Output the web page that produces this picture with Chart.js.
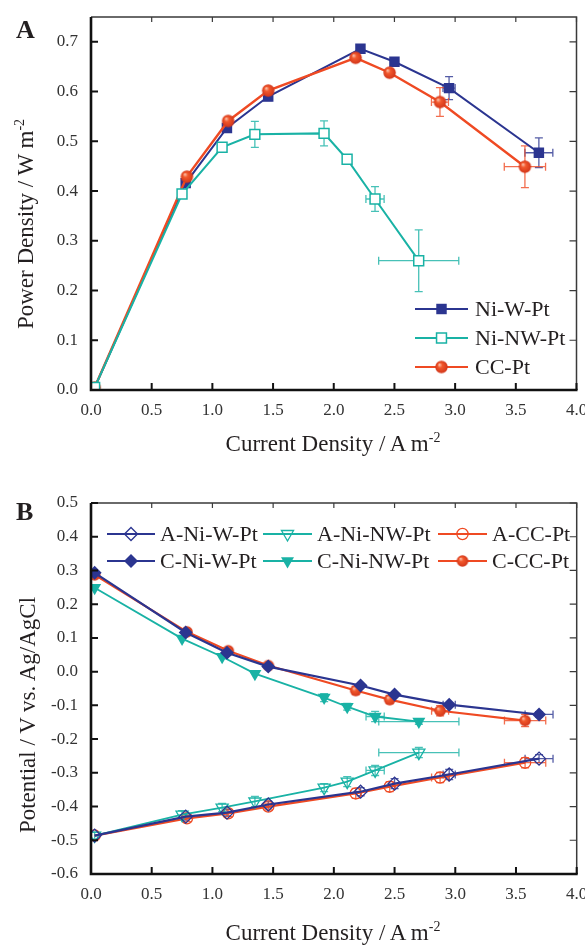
<!DOCTYPE html>
<html>
<head>
<meta charset="utf-8">
<script src="https://cdn.jsdelivr.net/npm/chart.js@4/dist/chart.umd.min.js"></script>
<style>
  html,body{margin:0;padding:0;background:#fff;}
  body{width:585px;height:945px;position:relative;overflow:hidden;font-family:"Liberation Serif","Times New Roman",serif;color:#231f20;}
  canvas{position:absolute;left:0;}
  #ca{top:0;}
  #cb{top:470px;}
  .plab{position:absolute;font-weight:bold;font-size:26px;line-height:26px;}
  .xt{position:absolute;font-size:23px;line-height:23px;white-space:nowrap;transform:translate(-50%,-50%);}
  .yt{position:absolute;font-size:23px;line-height:23px;white-space:nowrap;transform:translate(-50%,-50%) rotate(-90deg);}
  .sp{font-size:14px;position:relative;top:-9px;}
</style>
</head>
<body>
<canvas id="ca" width="585" height="470"></canvas>
<canvas id="cb" width="585" height="475"></canvas>
<div class="plab" style="left:16px;top:17px;">A</div>
<div class="plab" style="left:16px;top:499px;">B</div>
<div class="yt" style="left:27px;top:224px;">Power Density / W m<span class="sp">-2</span></div>
<div class="xt" style="left:333px;top:445px;">Current Density / A m<span class="sp">-2</span></div>
<div class="yt" style="left:27px;top:715px;">Potential / V vs. Ag/AgCl</div>
<div class="xt" style="left:333px;top:934px;">Current Density / A m<span class="sp">-2</span></div>
<script>
// ---------- tick labels ----------
const xTicks  = [0, 0.5, 1.0, 1.5, 2.0, 2.5, 3.0, 3.5, 4.0];
const yTicksA = [0, 0.1, 0.2, 0.3, 0.4, 0.5, 0.6, 0.7];
const yTicksB = [-0.6, -0.5, -0.4, -0.3, -0.2, -0.1, 0, 0.1, 0.2, 0.3, 0.4, 0.5];

// ---------- current densities (A m-2) ----------
const curNiW = [0.03, 0.78, 1.12, 1.46, 2.22, 2.50, 2.95, 3.69];
const curNW  = [0.03, 0.75, 1.08, 1.35, 1.92, 2.11, 2.34, 2.70];
const curCC  = [0.03, 0.79, 1.13, 1.46, 2.18, 2.46, 2.875, 3.575];
const curErrNiW = [0, 0, 0, 0, 0, 0, 0.05, 0.115];
const curErrNW  = [0, 0, 0, 0, 0, 0, 0.075, 0.33];
const curErrCC  = [0, 0, 0, 0, 0, 0, 0.07, 0.17];

// ---------- panel A: power density (W m-2) ----------
const powNiW = [0.005, 0.416, 0.527, 0.590, 0.686, 0.660, 0.607, 0.477];
const powNW  = [0.005, 0.394, 0.488, 0.514, 0.516, 0.464, 0.384, 0.260];
const powCC  = [0.005, 0.429, 0.541, 0.602, 0.668, 0.638, 0.579, 0.449];
const powErrNiW = [0, 0.005, 0.008, 0.008, 0, 0, 0.023, 0.030];
const powErrNW  = [0, 0.006, 0.008, 0.026, 0.025, 0.006, 0.025, 0.062];
const powErrCC  = [0, 0, 0, 0, 0, 0, 0.029, 0.042];

// ---------- panel B: electrode potentials (V vs Ag/AgCl) ----------
const anNiW  = [-0.486, -0.430, -0.418, -0.394, -0.356, -0.332, -0.305, -0.258];
const anNW   = [-0.486, -0.424, -0.403, -0.385, -0.344, -0.326, -0.293, -0.240];
const anCC   = [-0.486, -0.435, -0.420, -0.400, -0.361, -0.341, -0.314, -0.270];
const caNiW  = [0.293, 0.116, 0.056, 0.015, -0.041, -0.068, -0.098, -0.127];
const caNW   = [0.249, 0.098, 0.044, -0.006, -0.077, -0.104, -0.133, -0.148];
const caCC   = [0.287, 0.118, 0.062, 0.018, -0.056, -0.083, -0.116, -0.145];
const anErrNiW = [0, 0.010, 0.010, 0.010, 0.012, 0.015, 0.015, 0.012];
const anErrNW  = [0.010, 0.012, 0.012, 0.015, 0.012, 0.015, 0.015, 0.015];
const anErrCC  = [0, 0.010, 0.010, 0.010, 0.015, 0.015, 0.015, 0.015];
const caErrNiW = [0, 0, 0, 0, 0, 0, 0.005, 0.008];
const caErrNW  = [0, 0, 0, 0, 0.012, 0.010, 0.015, 0.008];
const caErrCC  = [0, 0, 0, 0, 0.012, 0.012, 0.015, 0.018];

const labelsA = ['Ni-W-Pt', 'Ni-NW-Pt', 'CC-Pt'];
const labelsB = ['A-Ni-W-Pt', 'A-Ni-NW-Pt', 'A-CC-Pt', 'C-Ni-W-Pt', 'C-Ni-NW-Pt', 'C-CC-Pt'];

// ---------- styling ----------
const NAVY = '#2b3590', TEAL = '#19b2a5', ORANGE = '#ef4a23';
const FONT = 'Liberation Serif';

function pts(xs, ys){ return xs.map((x, i) => ({x: x, y: ys[i]})); }

function sphere(r){
  const s = Math.ceil(r * 2 + 2);
  const c = document.createElement('canvas');
  c.width = s; c.height = s;
  const g = c.getContext('2d');
  const cx = s / 2;
  const grad = g.createRadialGradient(cx - r * 0.35, cx - r * 0.4, r * 0.05, cx, cx, r);
  grad.addColorStop(0, '#fcc4ae');
  grad.addColorStop(0.35, '#f2582c');
  grad.addColorStop(1, '#d2361a');
  g.fillStyle = grad;
  g.beginPath(); g.arc(cx, cx, r, 0, Math.PI * 2); g.fill();
  return c;
}
const ballA = sphere(6.2);
const ballB = sphere(5.8);

// error bar plugin
const errorBars = {
  id: 'errorBars',
  beforeDatasetsDraw(chart){
    const ctx = chart.ctx, xs = chart.scales.x, ys = chart.scales.y;
    ctx.save();
    chart.data.datasets.forEach(ds => {
      const ex = ds.errX || [], ey = ds.errY || [];
      ctx.strokeStyle = ds.borderColor;
      ctx.globalAlpha = 0.8;
      ctx.lineWidth = 1.3;
      ds.data.forEach((p, i) => {
        const px = xs.getPixelForValue(p.x), py = ys.getPixelForValue(p.y);
        const cap = 4;
        if (ey[i]) {
          const y1 = ys.getPixelForValue(p.y + ey[i]), y2 = ys.getPixelForValue(p.y - ey[i]);
          ctx.beginPath();
          ctx.moveTo(px, y1); ctx.lineTo(px, y2);
          ctx.moveTo(px - cap, y1); ctx.lineTo(px + cap, y1);
          ctx.moveTo(px - cap, y2); ctx.lineTo(px + cap, y2);
          ctx.stroke();
        }
        if (ex[i]) {
          const x1 = xs.getPixelForValue(p.x - ex[i]), x2 = xs.getPixelForValue(p.x + ex[i]);
          ctx.beginPath();
          ctx.moveTo(x1, py); ctx.lineTo(x2, py);
          ctx.moveTo(x1, py - cap); ctx.lineTo(x1, py + cap);
          ctx.moveTo(x2, py - cap); ctx.lineTo(x2, py + cap);
          ctx.stroke();
        }
      });
    });
    ctx.restore();
  }
};

// frame + inward ticks
const frame = {
  id: 'frame',
  afterDraw(chart, args, opts){
    const ctx = chart.ctx, a = chart.chartArea, xs = chart.scales.x, ys = chart.scales.y;
    ctx.save();
    ctx.strokeStyle = '#3a3a3a'; ctx.lineWidth = 1.5;
    ctx.beginPath();
    ctx.moveTo(a.left, a.top); ctx.lineTo(a.right, a.top); ctx.lineTo(a.right, a.bottom);
    ctx.stroke();
    ctx.lineWidth = 1.2;
    ctx.beginPath();
    xTicks.forEach(v => { const px = xs.getPixelForValue(v); ctx.moveTo(px, a.top); ctx.lineTo(px, a.top + 5); });
    opts.yt.forEach(v => { const py = ys.getPixelForValue(v); ctx.moveTo(a.right, py); ctx.lineTo(a.right - 7, py); });
    ctx.stroke();
    ctx.strokeStyle = '#111'; ctx.lineWidth = 2.6;
    ctx.beginPath();
    ctx.moveTo(a.left, a.top); ctx.lineTo(a.left, a.bottom); ctx.lineTo(a.right + 1, a.bottom);
    ctx.stroke();
    ctx.lineWidth = 2;
    ctx.beginPath();
    xTicks.forEach(v => { const px = xs.getPixelForValue(v); ctx.moveTo(px, a.bottom); ctx.lineTo(px, a.bottom - 7); });
    opts.yt.forEach(v => { const py = ys.getPixelForValue(v); ctx.moveTo(a.left, py); ctx.lineTo(a.left + 7, py); });
    ctx.stroke();
    ctx.restore();
  }
};

// custom legend: line - marker - line, then label
const lineLegend = {
  id: 'lineLegend',
  afterDraw(chart, args, opts){
    const ctx = chart.ctx;
    ctx.save();
    opts.items.forEach(it => {
      const ds = chart.data.datasets[it.ds];
      ctx.strokeStyle = ds.borderColor;
      ctx.lineWidth = 2;
      ctx.beginPath(); ctx.moveTo(it.x1, it.y); ctx.lineTo(it.x2, it.y); ctx.stroke();
      ctx.fillStyle = ds.pointBackgroundColor;
      ctx.strokeStyle = ds.pointBorderColor;
      ctx.lineWidth = ds.pointBorderWidth;
      Chart.helpers.drawPoint(ctx, {pointStyle: ds.pointStyle, rotation: ds.pointRotation || 0,
        radius: ds.pointRadius, borderWidth: ds.pointBorderWidth}, (it.x1 + it.x2) / 2, it.y);
      ctx.fillStyle = '#231f20';
      ctx.font = opts.size + 'px "' + FONT + '"';
      ctx.textBaseline = 'middle';
      ctx.textAlign = 'left';
      ctx.fillText(ds.label, it.tx, it.y + 1);
    });
    ctx.restore();
  }
};

function scales(yMin, yMax, yTicks, xH){
  const tickFont = {family: FONT, size: 17};
  return {
    x: {
      type: 'linear', min: 0, max: 4, position: 'bottom',
      grid: {display: false, drawTicks: false}, border: {display: false},
      ticks: {font: tickFont, color: '#333', padding: 10, autoSkip: false, maxRotation: 0,
              callback: v => Number(v).toFixed(1)},
      afterBuildTicks: s => { s.ticks = xTicks.map(v => ({value: v})); },
      afterFit: s => { s.height = xH; s.paddingLeft = 0; s.paddingRight = 0; }
    },
    y: {
      type: 'linear', min: yMin, max: yMax, position: 'left',
      grid: {display: false, drawTicks: false}, border: {display: false},
      ticks: {font: tickFont, color: '#333', padding: 13, autoSkip: false,
              callback: v => Number(v).toFixed(1)},
      afterBuildTicks: s => { s.ticks = yTicks.map(v => ({value: v})); },
      afterFit: s => { s.width = 91; s.paddingTop = 0; s.paddingBottom = 0; }
    }
  };
}

function ds(label, xs, ys, ex, ey, color, st){
  return Object.assign({
    label: label, data: pts(xs, ys), errX: ex, errY: ey,
    borderColor: color, pointBorderColor: color, pointBackgroundColor: color,
    tension: 0, pointHoverRadius: 0
  }, st);
}

// ---------- chart A ----------
new Chart(document.getElementById('ca'), {
  type: 'line',
  data: {
    datasets: [
      ds(labelsA[0], curNiW, powNiW, curErrNiW, powErrNiW, NAVY,
         {borderWidth: 2, pointStyle: 'rect', pointRadius: 7.4, pointBorderWidth: 0, order: 2}),
      ds(labelsA[1], curNW, powNW, curErrNW, powErrNW, TEAL,
         {borderWidth: 2, pointStyle: 'rect', pointRadius: 7, pointBorderWidth: 1.5,
          pointBackgroundColor: '#fff', order: 0}),
      ds(labelsA[2], curCC, powCC, curErrCC, powErrCC, ORANGE,
         {borderWidth: 2.4, pointStyle: ballA, pointRadius: 6.2, pointBorderWidth: 0, order: 1})
    ]
  },
  options: {
    responsive: false, animation: false, devicePixelRatio: 1,
    layout: {padding: {left: 0, top: 17, right: 7, bottom: 0}},
    scales: scales(0, 0.75, yTicksA, 80),
    plugins: {
      legend: {display: false}, tooltip: {enabled: false},
      frame: {yt: yTicksA},
      lineLegend: {size: 22, items: [
        {ds: 0, x1: 415, x2: 468, tx: 475, y: 309},
        {ds: 1, x1: 415, x2: 468, tx: 475, y: 338},
        {ds: 2, x1: 415, x2: 468, tx: 475, y: 367}
      ]}
    }
  },
  plugins: [errorBars, frame, lineLegend]
});

// ---------- chart B ----------
const OPEN = 'rgba(255,255,255,0)';
new Chart(document.getElementById('cb'), {
  type: 'line',
  data: {
    datasets: [
      ds(labelsB[0], curNiW, anNiW, curErrNiW, anErrNiW, NAVY,
         {borderWidth: 2.2, pointStyle: 'rectRot', pointRadius: 6.5, pointBorderWidth: 1.3, pointBackgroundColor: OPEN, order: 0}),
      ds(labelsB[1], curNW, anNW, curErrNW, anErrNW, TEAL,
         {borderWidth: 1.8, pointStyle: 'triangle', pointRotation: 180, pointRadius: 7, pointBorderWidth: 1.3, pointBackgroundColor: OPEN, order: 1}),
      ds(labelsB[2], curCC, anCC, curErrCC, anErrCC, ORANGE,
         {borderWidth: 2.2, pointStyle: 'circle', pointRadius: 5.6, pointBorderWidth: 1.3, pointBackgroundColor: OPEN, order: 2}),
      ds(labelsB[3], curNiW, caNiW, curErrNiW, caErrNiW, NAVY,
         {borderWidth: 2.2, pointStyle: 'rectRot', pointRadius: 7, pointBorderWidth: 0, order: 0}),
      ds(labelsB[4], curNW, caNW, curErrNW, caErrNW, TEAL,
         {borderWidth: 1.8, pointStyle: 'triangle', pointRotation: 180, pointRadius: 7.5, pointBorderWidth: 0, order: 1}),
      ds(labelsB[5], curCC, caCC, curErrCC, caErrCC, ORANGE,
         {borderWidth: 2.2, pointStyle: ballB, pointRadius: 5.8, pointBorderWidth: 0, order: 2})
    ]
  },
  options: {
    responsive: false, animation: false, devicePixelRatio: 1,
    layout: {padding: {left: 0, top: 33, right: 7, bottom: 0}},
    scales: scales(-0.6, 0.5, yTicksB, 71),
    plugins: {
      legend: {display: false}, tooltip: {enabled: false},
      frame: {yt: yTicksB},
      lineLegend: {size: 22, items: [
        {ds: 0, x1: 107, x2: 155, tx: 160, y: 64},
        {ds: 1, x1: 263, x2: 312, tx: 317, y: 64},
        {ds: 2, x1: 438, x2: 487, tx: 492, y: 64},
        {ds: 3, x1: 107, x2: 155, tx: 160, y: 91},
        {ds: 4, x1: 263, x2: 312, tx: 317, y: 91},
        {ds: 5, x1: 438, x2: 487, tx: 492, y: 91}
      ]}
    }
  },
  plugins: [errorBars, frame, lineLegend]
});
</script>
</body>
</html>
